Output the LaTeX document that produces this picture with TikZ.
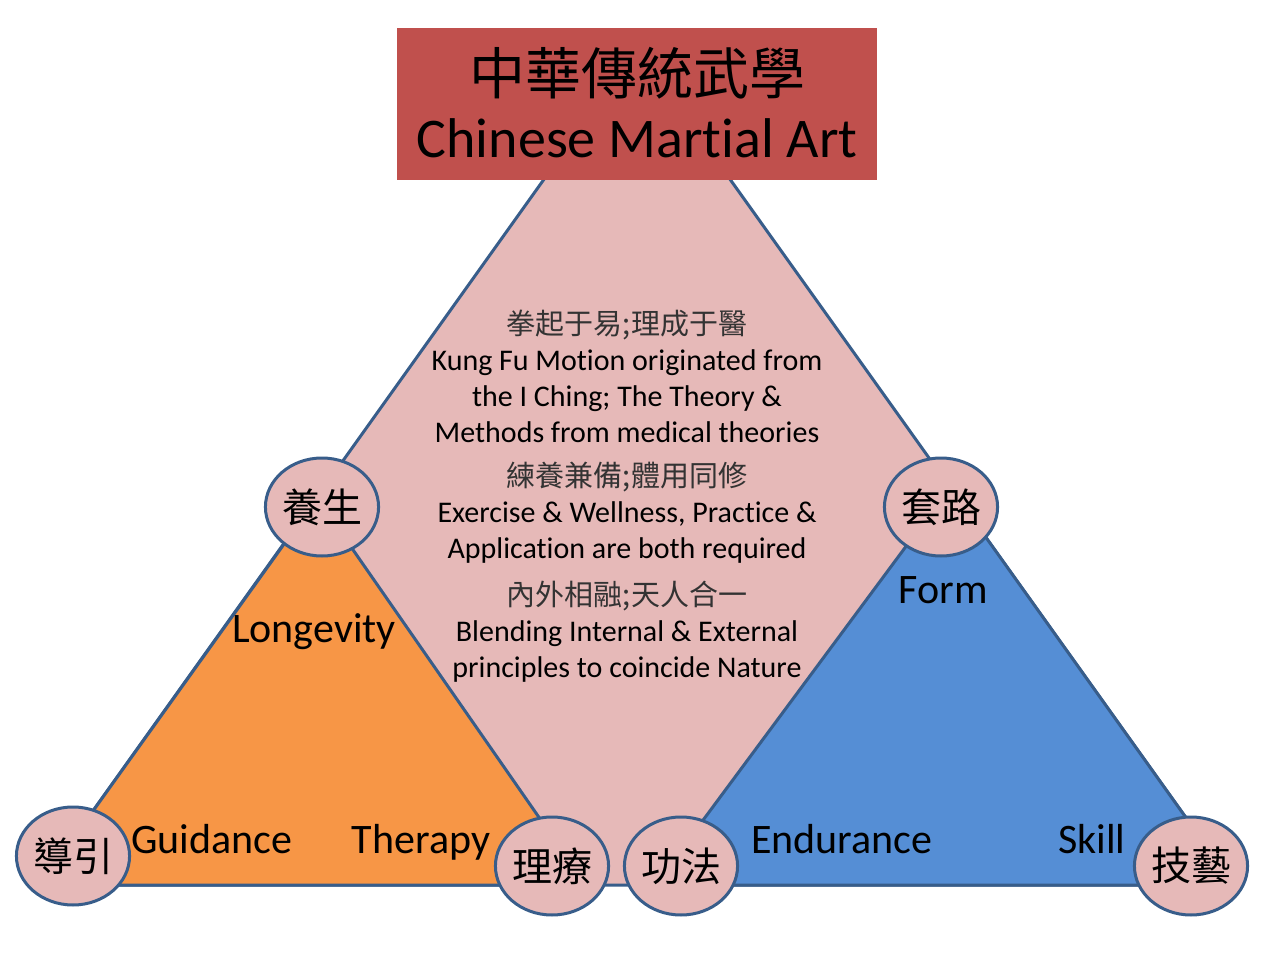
\documentclass[tikz,border=0pt]{standalone}
\usepackage{fontspec}
\setmainfont{Carlito}[Ligatures=NoCommon]
\newfontfamily\cjk{Noto Sans CJK TC}
\usetikzlibrary{shapes.geometric}
\definecolor{pinkfill}{HTML}{E6B9B8}
\definecolor{orangefill}{HTML}{F79646}
\definecolor{bluefill}{HTML}{558ED5}
\definecolor{titlered}{HTML}{C0504D}
\definecolor{edgeblue}{HTML}{385D8A}
\begin{document}
\begin{tikzpicture}[x=1pt, y=-1pt,
		rim/.style={draw=edgeblue, line width=3pt, line join=round},
		hub/.style={ellipse, draw=edgeblue, line width=3pt, fill=pinkfill, minimum width=108pt, minimum height=98pt, inner sep=0pt, font=\cjk\fontsize{40}{40}\selectfont},
		tag/.style={anchor=base, font=\fontsize{42}{42}\selectfont},
		blurb/.style={align=center, font=\fontsize{30}{36}\selectfont}]
			% 1. 画布大小
			\fill[white] (0,0) rectangle (1275,955);
			\useasboundingbox (0,0) rectangle (1275,955);
			
			% 2. 三个三角形：粉色大三角，橙色与蓝色小三角
			\draw[rim, fill=pinkfill] (637,49) -- (1234,885) -- (40,885) -- cycle;
			\draw[rim, fill=orangefill] (317,498) -- (586,885) -- (40,885) -- cycle;
			\draw[rim, fill=bluefill] (950,487) -- (1234,885) -- (655,885) -- cycle;
			
			% 3. 标题框
			\fill[titlered] (397,28) rectangle (877,180);
			\node[font=\cjk\fontsize{56}{56}\selectfont] (titlecn) at (637,73) {中華傳統武學};
			\node[anchor=base, font=\fontsize{56}{56}\selectfont] (titleen) at (637,158) {Chinese Martial Art};
			
			% 4. 中间说明文字
			\node[blurb] (motto1) at (627,376) {{\cjk\fontsize{29}{36}\selectfont\color{black!80}拳起于易;理成于醫}\\Kung Fu Motion originated from\\the I Ching; The Theory \&\\Methods from medical theories};
			\node[blurb] (motto2) at (627,513) {{\cjk\fontsize{29}{36}\selectfont\color{black!80}練養兼備;體用同修}\\Exercise \& Wellness, Practice \&\\Application are both required};
			\node[blurb] (motto3) at (627,632) {{\cjk\fontsize{29}{36}\selectfont\color{black!80}內外相融;天人合一}\\Blending Internal \& External\\principles to coincide Nature};
			
			% 5. 英文标签
			\node[tag] (longevity) at (314,642) {Longevity};
			\node[tag] (form) at (943,603) {Form};
			\node[tag] (guidance) at (212,853) {Guidance};
			\node[tag] (therapy) at (421,853) {Therapy};
			\node[tag] (endurance) at (842,853) {Endurance};
			\node[tag] (skill) at (1092,853) {Skill};
			
			% 6. 圆圈
			\node[hub] (yangsheng) at (322,507) {養生};
			\node[hub] (taolu) at (941,507) {套路};
			\node[hub] (daoyin) at (73,856) {導引};
			\node[hub] (liliao) at (552,866) {理療};
			\node[hub] (gongfa) at (681,866) {功法};
			\node[hub] (jiyi) at (1191,866) {技藝};
			
		\end{tikzpicture}
\end{document}
